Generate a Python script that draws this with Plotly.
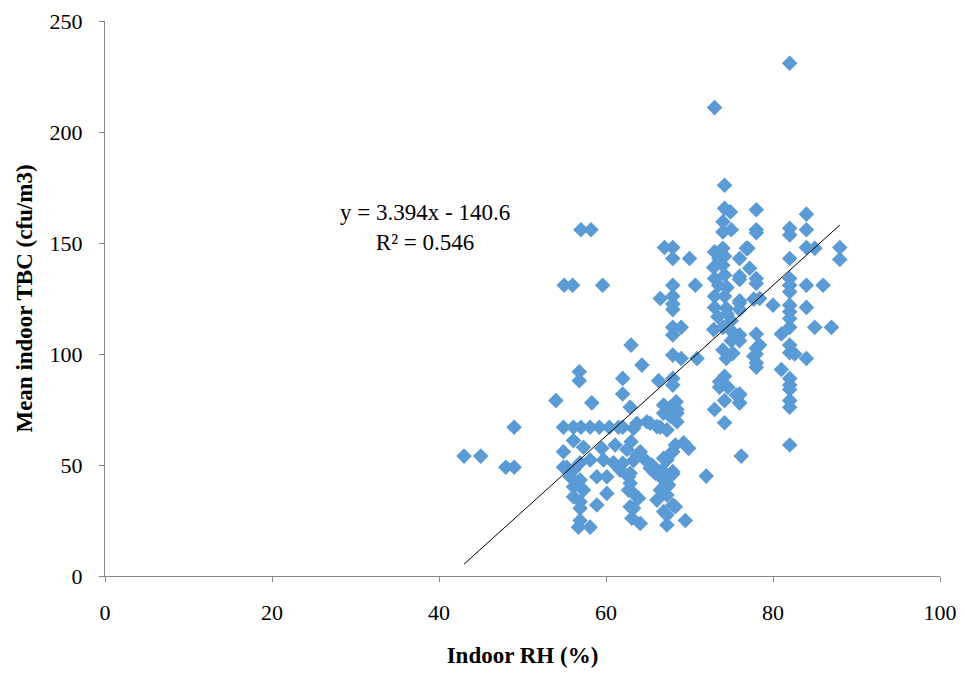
import plotly.graph_objects as go

# Indoor RH (%) and mean indoor TBC (cfu/m3)
rh = [
    43, 45, 48, 49, 49, 54, 55, 56, 57, 58.2, 59.6, 56.8, 56.8, 58.3, 62, 62, 63, 64.3, 72, 76.2, 73, 82, 74.2,
    54.9, 56.1, 57, 58.1, 59.2, 60.4, 61.5,
    56.1, 54.9, 57.3, 59.5, 61.1, 62.5, 63.3,
    54.9, 55.3, 56.1, 56.9, 58.1, 59.7, 60.9, 61.7, 62.9,
    55.7, 56.9, 58.9, 60.1,
    56.1, 57.3, 60.1, 58.9,
    56.1, 56.9, 56.9,
    62.7, 62.9, 63.1,
    56.9, 56.7, 58.1,
    62, 63.3, 62.9, 63, 62, 62.7, 62.9,
    64.1, 64.7, 65.3, 65.9, 66.7, 68, 66.9, 67.3, 63.7, 65.5, 68,
    66.1, 67.3, 68, 66.9, 63.3, 63.9, 63.3, 64.1, 67.3, 69.5, 67.3, 68.3, 66.5, 67.5, 67.3,
    69.3, 69.9, 68, 67.3, 68.3, 66.9, 67.7,
    63.7, 64.9, 66.1, 65.3, 67.3, 66.5,
    66.9, 68.4, 66.9, 68.5, 68.5, 67.7, 67.7, 68.5,
    66.3, 68, 68, 68, 69, 70.9,
    66.5, 68, 68, 68, 68, 69, 68, 67, 68, 68, 70, 68, 70.7,
    73, 74.2, 74.2, 76, 76, 73.6, 74.2, 74.6, 75.6, 73.6,
    74, 75.2, 74.4, 72.9, 74, 74.9, 76, 73.4, 73, 74.4, 76, 76, 73, 74.2, 72.9, 73, 74.2, 76,
    73, 74, 74.2, 76, 76.8, 74.2, 74.9, 74, 75, 74, 74.5, 74, 75, 73.5, 73.5, 74.5, 75, 76,
    77.2, 77, 76, 76, 77.7,
    78, 84, 78, 78, 82, 82, 84, 84, 85, 88, 88, 82, 78, 78, 82, 82, 84, 86, 82, 78.4,
    80, 82, 84, 82, 82, 82, 85, 87, 81, 78, 78.4, 78, 77.7, 78, 82, 82, 82.6, 84, 81,
    82, 82, 82, 82, 82, 82, 76, 76, 78, 78,
]
tbc = [
    54, 54, 49, 49, 67, 79, 131, 131, 156, 156, 131, 92, 88, 78, 89, 82, 104, 95, 45, 54, 211, 231, 176,
    67, 67, 67, 67, 67, 67, 67,
    61, 56, 58, 57.5, 59, 57, 52,
    49, 49, 47.7, 51, 52.3, 52.3, 51, 47.7, 46.3,
    44.7, 43.2, 44.7, 44.7,
    40.2, 38.7, 37.2, 32,
    35.7, 33.5, 30.5,
    38.7, 31.2, 26,
    25, 22, 22,
    67, 66.5, 76, 60.5, 50.8, 44.7, 41.8,
    56, 52.3, 48.5, 46.3, 47.7, 47, 43.2, 40.2, 54.5, 50, 46,
    34.2, 36.5, 32, 29, 37.2, 35, 30.5, 23.7, 23, 25, 27.5, 31.2, 38.7, 41, 44.7,
    60, 57.5, 56, 52.3, 59, 53, 55,
    68.8, 69.5, 67.3, 68.8, 65.8, 67,
    77, 78.5, 73.3, 73.3, 69.5, 72, 76, 75,
    88, 89, 86, 99.5, 98, 98,
    125, 126, 122.5, 120, 112, 112, 108.6, 148, 148, 143, 143, 131, 131,
    75, 79, 69, 82, 78, 87.5, 90, 85, 81.5, 85,
    101.8, 100.3, 98, 111, 112, 110.8, 108.6, 116.8, 121, 120.6, 123, 120, 126, 126, 139, 134, 135.6, 135,
    146, 147.6, 144, 143, 147.6, 165.6, 164, 159.6, 156, 155, 130, 140, 115, 143, 131, 118, 106, 106,
    138.6, 147.6, 133.6, 124, 124.7,
    165, 163, 156, 154.6, 156.6, 153.6, 156, 148, 147.6, 148, 142.6, 143, 134, 131.8, 134, 131, 131, 131, 128, 125,
    122, 122, 121, 119, 116, 112, 112, 112, 109, 109, 104, 100, 99, 94, 104, 100.6, 100, 98, 93,
    89, 86, 84, 79, 76, 59, 81.5, 78, 102.6, 96,
]

# Linear trendline reported on the chart
slope = 3.394
intercept = -140.6
r_squared = 0.546

x_ticks = [0, 20, 40, 60, 80, 100]
y_ticks = [0, 50, 100, 150, 200, 250]

font_family = "Liberation Serif, Times New Roman, serif"

trend_x = [min(rh), max(rh)]
trend_y = [slope * v + intercept for v in trend_x]

fig = go.Figure()
fig.add_trace(go.Scatter(
    x=rh, y=tbc, mode="markers",
    marker=dict(symbol="diamond", size=12, color="#5B9BD5", line=dict(width=0)),
    showlegend=False, hoverinfo="x+y",
))
fig.add_trace(go.Scatter(
    x=trend_x, y=trend_y, mode="lines",
    line=dict(color="black", width=1),
    showlegend=False, hoverinfo="skip",
))

fig.add_annotation(
    x=38.3, y=157, xref="x", yref="y",
    text=f"y = {slope}x - {abs(intercept)}<br>R² = {r_squared}",
    showarrow=False, align="center",
    font=dict(family=font_family, size=23, color="black"),
)

axis_common = dict(
    showgrid=False, zeroline=False, automargin=False,
    showline=True, linecolor="#868686", linewidth=1,
    ticks="outside", ticklen=5, tickcolor="#868686",
    tickfont=dict(family=font_family, size=22, color="black"),
)

fig.update_layout(
    width=964, height=675,
    margin=dict(l=105, r=24, t=21, b=99),
    paper_bgcolor="white", plot_bgcolor="white",
    xaxis=dict(
        range=[0, 100], tickvals=x_ticks, ticklabelstandoff=12,
        title=dict(text="<b>Indoor RH (%)</b>", font=dict(family=font_family, size=23, color="black"), standoff=22),
        **axis_common,
    ),
    yaxis=dict(
        range=[0, 250], tickvals=y_ticks, ticklabelstandoff=12,
        title=dict(text="<b>Mean indoor TBC (cfu/m3)</b>", font=dict(family=font_family, size=23, color="black"), standoff=10),
        **axis_common,
    ),
)

fig.write_html("out.html")
